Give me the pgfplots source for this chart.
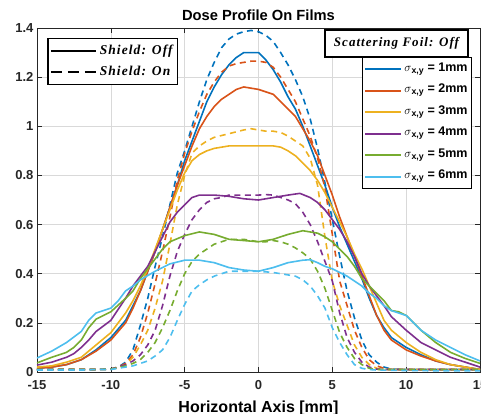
\documentclass[border=0pt]{standalone}
\usepackage{fontspec}
\setmainfont{Liberation Sans}
\newfontfamily\cambria[LetterSpace=8]{Liberation Serif}
\usepackage{pgfplots}
\pgfplotsset{compat=1.18}
\definecolor{c1}{HTML}{0072BD}
\definecolor{c2}{HTML}{D95319}
\definecolor{c3}{HTML}{EDB120}
\definecolor{c4}{HTML}{7E2F8E}
\definecolor{c5}{HTML}{77AC30}
\definecolor{c6}{HTML}{4DBEEE}
\pgfplotsset{
  sol/.style={line width=1.6pt},
  das/.style={line width=1.6pt, dash pattern=on 6pt off 4.5pt},
}
\begin{document}
\begin{tikzpicture}
\begin{axis}[
  scale only axis, width=443pt, height=344pt,
  xmin=-15, xmax=15, ymin=0, ymax=1.4,
  xtick={-15,-10,-5,0,5,10,15},
  ytick={0,0.2,0.4,0.6,0.8,1,1.2,1.4},
  grid=major, grid style={color=gray!30, line width=0.6pt},
  axis line style={color=black!85, line width=0.8pt},
  tick align=inside, major tick length=5pt,
  tick style={black!85, line width=0.6pt},
  ticklabel style={font=\fontsize{13}{13}\selectfont\bfseries, text=black!85},
  xticklabel style={yshift=-5pt},
  /pgf/number format/assume math mode=true,
  title={Dose Profile On Films},
  title style={font=\fontsize{14.7}{15}\selectfont\bfseries, at={(axis description cs:0.5,1)}, anchor=base, inner sep=0pt, yshift=1.3pt},
  xlabel={Horizontal Axis [mm]},
  xlabel style={font=\fontsize{16}{16}\selectfont\bfseries, at={(axis description cs:0.5,0)}, anchor=base, inner sep=0pt, yshift=-40pt},
  legend style={at={(0.982,0.9157)}, anchor=north east, draw=black, line width=0.8pt, fill=white,
    font=\fontsize{12.5}{12.5}\selectfont\bfseries, inner xsep=2pt, inner ysep=1pt,
    nodes={text height=9.5pt, text depth=5pt, inner ysep=3.5pt, inner xsep=2pt}},
  legend cell align=left,
  legend image code/.code={\draw[#1, line width=2pt] (0pt,0pt) -- (36pt,0pt);},
]
% sigma = 1 mm
\addplot[sol,c1] coordinates {(-15,0.015)(-14,0.02)(-13,0.03)(-12,0.05)(-11,0.09)(-10,0.14)(-9,0.21)(-8.5,0.27)(-8,0.33)(-7.5,0.41)(-7,0.49)(-6.5,0.58)(-6,0.67)(-5.5,0.76)(-5,0.86)(-4.5,0.94)(-4,1.02)(-3.5,1.10)(-3,1.16)(-2.5,1.21)(-2,1.25)(-1.5,1.28)(-1,1.30)(0,1.30)(0.5,1.27)(1,1.23)(1.5,1.18)(2,1.12)(2.5,1.07)(3,1.00)(3.5,0.92)(4,0.84)(4.5,0.76)(5,0.67)(5.5,0.59)(6,0.52)(6.5,0.45)(7,0.38)(7.5,0.30)(8,0.23)(8.5,0.18)(9,0.14)(10,0.10)(11,0.07)(12,0.045)(13,0.03)(14,0.02)(15,0.01)};
\addlegendentry{$\sigma$\textsubscript{x,y} = 1mm}
\addplot[das,c1,forget plot] coordinates {(-15,0.01)(-14,0.01)(-13,0.01)(-12,0.01)(-11,0.01)(-10,0.012)(-9.5,0.02)(-9,0.04)(-8.5,0.09)(-8,0.19)(-7.5,0.30)(-7,0.43)(-6.5,0.55)(-6,0.68)(-5.5,0.81)(-5,0.90)(-4.5,1.00)(-4,1.10)(-3.5,1.19)(-3,1.26)(-2.5,1.32)(-2,1.355)(-1.5,1.375)(-1,1.385)(-0.5,1.39)(0,1.385)(0.5,1.37)(1,1.345)(1.5,1.30)(2,1.25)(2.5,1.19)(3,1.12)(3.5,1.03)(4,0.91)(4.5,0.77)(5,0.62)(5.5,0.47)(6,0.33)(6.5,0.22)(7,0.13)(7.5,0.07)(8,0.04)(8.5,0.02)(9,0.012)(10,0.01)(11,0.01)(12,0.01)(13,0.01)(14,0.01)(15,0.01)};
% sigma = 2 mm
\addplot[sol,c2] coordinates {(-15,0.015)(-14,0.02)(-13,0.03)(-12,0.05)(-11,0.085)(-10,0.13)(-9,0.20)(-8.5,0.26)(-8,0.33)(-7.5,0.41)(-7,0.49)(-6.5,0.58)(-6,0.67)(-5.5,0.76)(-5,0.84)(-4.5,0.92)(-4,0.99)(-3.5,1.04)(-3,1.08)(-2.5,1.11)(-2,1.13)(-1.5,1.15)(-1,1.16)(-0.5,1.155)(0,1.15)(0.5,1.14)(1,1.13)(1.5,1.10)(2,1.07)(2.5,1.04)(3,0.99)(3.5,0.94)(4,0.88)(4.5,0.80)(5,0.72)(5.5,0.63)(6,0.55)(6.5,0.47)(7,0.39)(7.5,0.31)(8,0.23)(8.5,0.17)(9,0.13)(10,0.09)(11,0.065)(12,0.045)(13,0.03)(14,0.02)(15,0.01)};
\addlegendentry{$\sigma$\textsubscript{x,y} = 2mm}
\addplot[das,c2,forget plot] coordinates {(-15,0.01)(-14,0.01)(-13,0.01)(-12,0.01)(-11,0.01)(-10,0.012)(-9.5,0.02)(-9,0.035)(-8.5,0.07)(-8,0.14)(-7.5,0.24)(-7,0.36)(-6.5,0.49)(-6,0.63)(-5.5,0.78)(-5,0.89)(-4.5,0.98)(-4,1.06)(-3.5,1.13)(-3,1.18)(-2.5,1.22)(-2,1.245)(-1.5,1.255)(-1,1.26)(-0.5,1.265)(0,1.265)(0.5,1.26)(1,1.24)(1.5,1.20)(2,1.15)(2.5,1.10)(3,1.03)(3.5,0.96)(4,0.87)(4.5,0.75)(5,0.56)(5.5,0.37)(6,0.27)(6.5,0.17)(7,0.10)(7.5,0.05)(8,0.025)(8.5,0.015)(9,0.01)(10,0.01)(11,0.01)(12,0.01)(13,0.01)(14,0.01)(15,0.01)};
% sigma = 3 mm
\addplot[sol,c3] coordinates {(-15,0.02)(-14,0.025)(-13,0.04)(-12,0.06)(-11,0.11)(-10,0.16)(-9,0.24)(-8.5,0.29)(-8,0.35)(-7.5,0.42)(-7,0.50)(-6.5,0.58)(-6,0.66)(-5.5,0.74)(-5,0.81)(-4.5,0.86)(-4,0.885)(-3.5,0.90)(-3,0.91)(-2,0.92)(-1,0.92)(0,0.92)(1,0.92)(1.5,0.915)(2,0.90)(2.5,0.88)(3,0.85)(3.5,0.82)(4,0.78)(4.5,0.73)(5,0.67)(5.5,0.61)(6,0.55)(6.5,0.48)(7,0.42)(7.5,0.35)(8,0.28)(8.5,0.21)(9,0.17)(10,0.12)(11,0.08)(12,0.05)(13,0.03)(14,0.02)(15,0.01)};
\addlegendentry{$\sigma$\textsubscript{x,y} = 3mm}
\addplot[das,c3,forget plot] coordinates {(-15,0.01)(-14,0.01)(-13,0.01)(-12,0.01)(-11,0.01)(-10,0.012)(-9.5,0.018)(-9,0.03)(-8.5,0.06)(-8,0.11)(-7.5,0.17)(-7,0.26)(-6.5,0.37)(-6,0.52)(-5.5,0.68)(-5,0.80)(-4.5,0.89)(-4,0.92)(-3.5,0.94)(-3,0.955)(-2,0.97)(-1,0.985)(-0.5,0.99)(0,0.985)(0.5,0.98)(1,0.98)(1.5,0.975)(2,0.96)(2.5,0.94)(3,0.92)(3.5,0.87)(4,0.76)(4.5,0.55)(5,0.37)(5.5,0.27)(6,0.19)(6.5,0.11)(7,0.06)(7.5,0.03)(8,0.015)(8.5,0.01)(10,0.01)(11,0.01)(12,0.01)(13,0.01)(14,0.01)(15,0.01)};
% sigma = 4 mm
\addplot[sol,c4] coordinates {(-15,0.028)(-14,0.04)(-13,0.06)(-12.5,0.075)(-12,0.10)(-11.5,0.13)(-11,0.165)(-10,0.21)(-9,0.30)(-8.5,0.35)(-8,0.39)(-7.5,0.43)(-7,0.49)(-6.5,0.55)(-6,0.61)(-5.5,0.65)(-5,0.68)(-4.5,0.71)(-4,0.72)(-3,0.72)(-2,0.715)(-1,0.705)(0,0.70)(1,0.71)(2,0.72)(2.8,0.727)(3.5,0.71)(4,0.69)(4.5,0.66)(5,0.62)(5.5,0.58)(6,0.53)(6.5,0.47)(7,0.40)(7.5,0.35)(8,0.31)(8.5,0.27)(9,0.225)(10,0.17)(11,0.12)(12,0.09)(13,0.06)(14,0.04)(15,0.02)};
\addlegendentry{$\sigma$\textsubscript{x,y} = 4mm}
\addplot[das,c4,forget plot] coordinates {(-15,0.01)(-14,0.01)(-13,0.01)(-12,0.01)(-11,0.01)(-10,0.012)(-9.5,0.02)(-9,0.03)(-8.5,0.045)(-8,0.07)(-7.5,0.11)(-7,0.17)(-6.5,0.27)(-6,0.39)(-5.5,0.49)(-5,0.56)(-4.5,0.62)(-4,0.66)(-3.5,0.69)(-3,0.705)(-2.5,0.71)(-2,0.72)(-1,0.72)(0,0.72)(0.5,0.722)(1,0.72)(1.5,0.71)(2,0.70)(2.5,0.685)(3,0.65)(3.5,0.60)(4,0.53)(4.5,0.45)(5,0.37)(5.5,0.24)(6,0.14)(6.5,0.08)(7,0.04)(7.5,0.02)(8,0.012)(8.5,0.01)(10,0.01)(11,0.01)(12,0.01)(13,0.01)(14,0.01)(15,0.01)};
% sigma = 5 mm
\addplot[sol,c5] coordinates {(-15,0.037)(-14,0.06)(-13,0.08)(-12.5,0.10)(-12,0.13)(-11.5,0.18)(-11,0.215)(-10.5,0.23)(-10,0.245)(-9,0.30)(-8.5,0.33)(-8,0.38)(-7.5,0.42)(-7,0.46)(-6.5,0.50)(-6,0.53)(-5,0.555)(-4,0.57)(-3,0.56)(-2,0.54)(-1,0.535)(0,0.53)(1,0.54)(2,0.56)(3,0.575)(4,0.565)(4.5,0.55)(5,0.53)(5.5,0.50)(6,0.47)(6.5,0.43)(7,0.38)(7.5,0.35)(8,0.32)(8.5,0.29)(9,0.25)(9.5,0.245)(10,0.23)(10.5,0.20)(11,0.17)(12,0.12)(13,0.08)(14,0.055)(15,0.035)};
\addlegendentry{$\sigma$\textsubscript{x,y} = 5mm}
\addplot[das,c5,forget plot] coordinates {(-15,0.01)(-14,0.01)(-13,0.01)(-12,0.01)(-11,0.01)(-10,0.012)(-9.5,0.018)(-9,0.025)(-8.5,0.035)(-8,0.05)(-7.5,0.08)(-7,0.12)(-6.5,0.18)(-6,0.25)(-5.5,0.33)(-5,0.40)(-4.5,0.45)(-4,0.48)(-3.5,0.50)(-3,0.52)(-2.5,0.53)(-2,0.54)(-1,0.54)(0,0.53)(0.5,0.53)(1,0.535)(1.5,0.53)(2,0.52)(2.5,0.505)(3,0.485)(3.5,0.46)(4,0.41)(4.5,0.34)(5,0.25)(5.5,0.16)(6,0.10)(6.5,0.055)(7,0.03)(7.5,0.015)(8,0.01)(10,0.01)(11,0.01)(12,0.01)(13,0.01)(14,0.01)(15,0.01)};
% sigma = 6 mm
\addplot[sol,c6] coordinates {(-15,0.057)(-14,0.085)(-13,0.12)(-12,0.165)(-11.5,0.21)(-11,0.24)(-10.5,0.25)(-10,0.26)(-9.5,0.29)(-9,0.33)(-8.5,0.35)(-8,0.375)(-7,0.41)(-6,0.44)(-5,0.455)(-4,0.455)(-3,0.445)(-2,0.425)(-1,0.415)(0,0.41)(1,0.425)(2,0.445)(3,0.455)(3.5,0.457)(4,0.445)(4.5,0.43)(5,0.42)(5.5,0.405)(6,0.39)(6.5,0.37)(7,0.35)(7.5,0.32)(8,0.30)(8.5,0.27)(9,0.25)(9.5,0.24)(10,0.23)(10.5,0.20)(11,0.17)(12,0.13)(13,0.10)(14,0.07)(15,0.045)};
\addlegendentry{$\sigma$\textsubscript{x,y} = 6mm}
\addplot[das,c6,forget plot] coordinates {(-15,0.008)(-14,0.008)(-13,0.008)(-12,0.008)(-11,0.01)(-10,0.01)(-9.5,0.015)(-9,0.02)(-8.5,0.025)(-8,0.035)(-7.5,0.045)(-7,0.065)(-6.5,0.09)(-6,0.14)(-5.5,0.21)(-5,0.275)(-4.5,0.33)(-4,0.355)(-3.5,0.375)(-3,0.39)(-2.5,0.40)(-2,0.41)(-1,0.41)(0,0.41)(1,0.405)(1.5,0.40)(2,0.395)(2.5,0.39)(3,0.375)(3.5,0.35)(4,0.31)(4.5,0.26)(5,0.18)(5.5,0.12)(6,0.07)(6.5,0.03)(7,0.015)(7.5,0.01)(8,0.008)(10,0.006)(12,0.005)(15,0.005)};
\node[draw=black, line width=1.5pt, fill=white, minimum width=143pt, minimum height=27pt, inner sep=0pt,
  font=\cambria\fontsize{13}{13}\selectfont\bfseries\itshape] at (rel axis cs:0.8115,0.955) {Scattering Foil: Off};
\end{axis}
\begin{axis}[
  scale only axis, width=443pt, height=344pt, hide axis,
  xmin=0, xmax=1, ymin=0, ymax=1,
  legend style={at={(0.0226,0.971)}, anchor=north west, draw=black, line width=1.5pt, fill=white,
    font=\cambria\fontsize{13.5}{13.5}\selectfont\bfseries\itshape, inner xsep=2pt, inner ysep=2pt,
    nodes={text height=10pt, text depth=4pt, inner ysep=3.5pt, inner xsep=3pt}},
  legend cell align=left,
  legend image code/.code={\draw[#1, line width=2pt] (0pt,0pt) -- (45pt,0pt);},
]
\addlegendimage{black}
\addlegendentry{Shield: Off}
\addlegendimage{black, dash pattern=on 11pt off 6pt}
\addlegendentry{Shield: On}
\end{axis}
\pgfresetboundingbox
\useasboundingbox (-37pt,-42pt) rectangle (444pt,372pt);
\end{tikzpicture}
\end{document}
